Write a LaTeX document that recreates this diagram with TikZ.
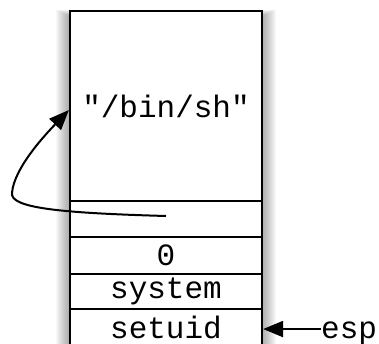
\documentclass[tikz,border=0pt]{standalone}
\usepackage{fontspec}
\setmonofont{Liberation Mono}
\usetikzlibrary{arrows.meta}
\begin{document}
\begin{tikzpicture}[x=1pt,y=1pt,
  cell/.style={draw, line width=2.2pt, minimum width=192pt, inner sep=0pt,
    font=\ttfamily\fontsize{31}{32}\selectfont},
  ptr/.style={line width=2pt, -{Triangle[length=20pt,width=16pt]}}]
\useasboundingbox (0,0) rectangle (379,343);
\clip (0,0) rectangle (379,343);
% soft shadow behind the stack, built from stacked translucent layers
\foreach \d in {1,...,14}{
  \fill[black, opacity=0.028] (70-\d,-20) rectangle (262+\d,326+\d*0.5);
}
\fill[white] (70,-20) rectangle (262,332);
% stack cells, top to bottom
\node[cell, minimum height=190pt] (str)  at (166,237)   {"/bin/sh"};
\node[cell, minimum height=36pt]  (addr) at (166,124)   {};
\node[cell, minimum height=37pt]  (zero) at (166,87.5)  {0};
\node[cell, minimum height=35pt]  (sys)  at (166,51.5)  {system};
\node[cell, minimum height=36pt]  (suid) at (166,16)    {setuid};
% pointer from the address slot up to the string
\coordinate (src) at (166,127);
\coordinate (bend) at (12,150);
\draw[ptr] (src) .. controls (60,130) and (10,135) .. (bend)
  .. controls (14,175) and (45,208) .. (str.west |- 0,233);
% stack pointer label
\node[anchor=base west, inner sep=0pt, font=\ttfamily\fontsize{31}{32}\selectfont]
  (esp) at (suid.base -| 321,0) {esp};
\draw[ptr] ([yshift=9pt]esp.base west) -- ([yshift=9pt]esp.base west -| suid.east);
\end{tikzpicture}
\end{document}
